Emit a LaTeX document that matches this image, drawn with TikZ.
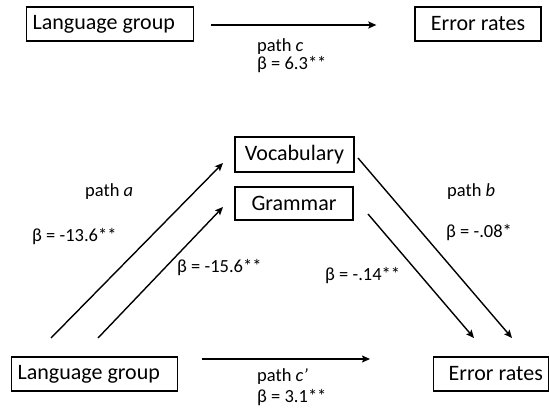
\documentclass[tikz,border=0pt]{standalone}
\usepackage{fontspec}
\setmainfont{Carlito}
\usetikzlibrary{arrows.meta}
\begin{document}
\begin{tikzpicture}[x=1pt,y=-1pt,
  box/.style={draw,line width=1.3pt,inner sep=0pt,font=\fontsize{22}{26}\selectfont},
  lbl/.style={anchor=west,inner sep=0pt,font=\fontsize{18.5}{22}\selectfont},
  conn/.style={line width=1.4pt,-{Stealth[length=8pt,width=7pt,inset=1.5pt]}}]
\useasboundingbox[fill=white] (0,0) rectangle (549,410);
% boxes
\node[box,anchor=west,minimum height=34pt] (tlg) at (26,24) {\makebox[167pt][l]{\hspace{6pt}Language group}};
\node[box,minimum width=126pt,minimum height=34pt] (ter) at (478,24) {Error rates};
\node[box,minimum width=119pt,minimum height=35pt] (voc) at (294.5,154.5) {Vocabulary};
\node[box,minimum width=118pt,minimum height=33pt] (gram) at (294,203.5) {Grammar};
\node[box,anchor=west,minimum height=34pt] (blg) at (11,374) {\makebox[166pt][l]{\hspace{6pt}Language group}};
\node[box,anchor=west,minimum height=34pt] (ber) at (433,374) {\makebox[114.5pt][l]{\hspace{15pt}Error rates}};
% connector end points
\coordinate (a1s) at (51,338);  \coordinate (a1e) at (223,163);
\coordinate (a2s) at (98,338);  \coordinate (a2e) at (223,207);
\coordinate (b1s) at (358,158); \coordinate (b1e) at (512,338);
\coordinate (b2s) at (368,214); \coordinate (b2e) at (474,338);
% connectors
\draw[conn,shorten <=17pt,shorten >=38pt] (tlg.east |- 0,25) -- (ter.west |- 0,25);
\draw[conn,shorten <=24pt,shorten >=63pt] (blg.east |- 0,359) -- (ber.west |- 0,359);
\draw[conn] (a1s) -- (a1e);
\draw[conn] (a2s) -- (a2e);
\draw[conn] (b1s) -- (b1e);
\draw[conn] (b2s) -- (b2e);
% labels
\node[lbl] (lc1) at (257,47) {path \textit{c}};
\node[lbl] (lc2) at (257,65) {β = 6.3**};
\node[lbl] (la1) at (85,192) {path \textit{a}};
\node[lbl] (la2) at (32,237) {β = -13.6**};
\node[lbl] (la3) at (177,268) {β = -15.6**};
\node[lbl] (lb1) at (447,192) {path \textit{b}};
\node[lbl] (lb2) at (446,233) {β = -.08*};
\node[lbl] (lb3) at (325,276) {β = -.14**};
\node[lbl] (lp1) at (257,377) {path \textit{c’}};
\node[lbl] (lp2) at (257,398) {β = 3.1**};
\end{tikzpicture}
\end{document}
